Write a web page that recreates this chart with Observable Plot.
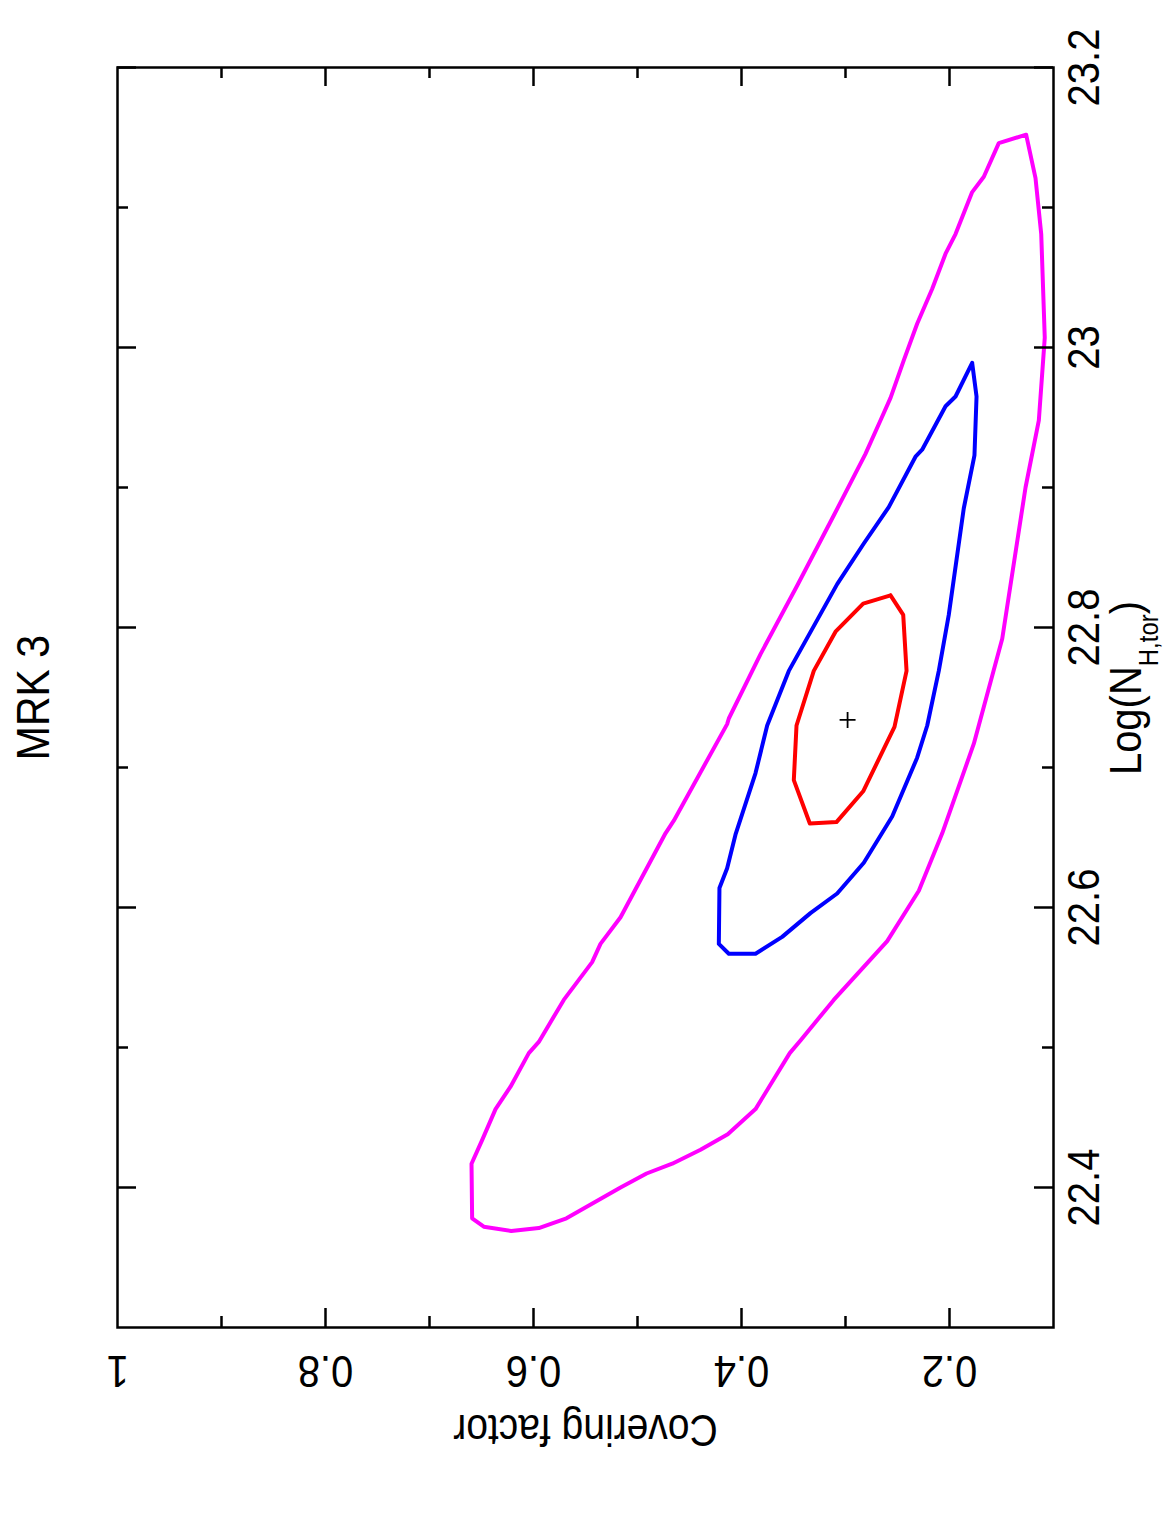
<!DOCTYPE html>
<html>
<head>
<meta charset="utf-8">
<script src="https://cdn.jsdelivr.net/npm/d3@7"></script>
<script src="https://cdn.jsdelivr.net/npm/@observablehq/plot@0.6"></script>
<style>
  html, body { margin: 0; padding: 0; background: #fff; }
  svg { display: block; }
</style>
</head>
<body>
<div id="chart"></div>
<script>
// Outer (magenta) confidence contour
const outerCf = [0.1263,0.1173,0.1118,0.1084,0.1141,0.1269,0.1493,0.1766,0.2070,0.2295,0.2599,0.3113,0.3433,0.3536,0.3865,0.4132,0.4394,0.4666,0.4913,0.5163,0.5683,0.5949,0.6214,0.6478,0.6590,0.6596,0.6493,0.6365,0.6221,0.6045,0.5949,0.5709,0.5436,0.5356,0.5163,0.5019,0.4731,0.4651,0.4138,0.4122,0.3817,0.3464,0.3113,0.2808,0.2663,0.2567,0.2439,0.2311,0.2166,0.2038,0.1942,0.1782,0.1670,0.1526];
const outerNh = [23.152,23.121,23.081,23.007,22.948,22.900,22.792,22.717,22.653,22.612,22.576,22.534,22.505,22.496,22.456,22.438,22.427,22.417,22.410,22.400,22.378,22.371,22.369,22.372,22.378,22.417,22.434,22.456,22.472,22.496,22.504,22.534,22.561,22.574,22.593,22.613,22.653,22.662,22.731,22.735,22.781,22.830,22.880,22.924,22.948,22.964,22.991,23.017,23.042,23.067,23.081,23.111,23.122,23.146];

// Middle (blue) contour
const midCf = [0.1782,0.1740,0.1760,0.1863,0.2007,0.2103,0.2214,0.2311,0.2551,0.2824,0.3080,0.3337,0.3609,0.3865,0.4122,0.4218,0.4212,0.4138,0.4058,0.3865,0.3753,0.3545,0.3080,0.2824,0.2584,0.2327,0.2263,0.2038,0.1942];
const midNh = [22.989,22.965,22.923,22.885,22.809,22.769,22.730,22.707,22.665,22.632,22.610,22.596,22.579,22.567,22.567,22.574,22.614,22.628,22.652,22.696,22.730,22.769,22.831,22.860,22.886,22.922,22.927,22.958,22.965];

// Inner (red) contour
const innerCf = [0.2567,0.2830,0.3096,0.3305,0.3471,0.3497,0.3343,0.3087,0.2830,0.2529,0.2413,0.2445];
const innerNh = [22.823,22.817,22.797,22.769,22.730,22.691,22.660,22.661,22.683,22.729,22.769,22.809];

// Best fit
const bestCf = [0.298];
const bestNh = [22.734];

// Ticks and labels
const nhMajor = [22.4, 22.6, 22.8, 23.0, 23.2];
const nhMinor = [22.5, 22.7, 22.9, 23.1];
const cfMajor = [0.2, 0.4, 0.6, 0.8];
const cfMinor = [0.3, 0.5, 0.7, 0.9];
const nhLabels = [22.4, 22.6, 22.8, 23, 23.2];
const cfLabels = [1, 0.8, 0.6, 0.4, 0.2];
const title = "MRK 3";
const xTitle = "Covering factor";

function closed(cf, nh) {
  const pts = cf.map((c, i) => ({cf: c, nh: nh[i]}));
  pts.push(pts[0]);
  return pts;
}

const W = 1167, H = 1523;
const mL = 117, mR = 114, mT = 67, mB = 196;
const iw = W - mL - mR, ih = H - mT - mB;
const major = 19, minor = 11;
const font = "Liberation Sans, Arial, Helvetica, sans-serif";
const txt = {textAnchor: "middle", lineAnchor: "middle", fill: "black"};

const chart = Plot.plot({
  width: W, height: H,
  marginLeft: mL, marginRight: mR, marginTop: mT, marginBottom: mB,
  style: {fontFamily: font, background: "#fff"},
  x: {domain: [1, 0.1], axis: null},
  y: {domain: [22.3, 23.2], axis: null},
  marks: [
    Plot.line(closed(outerCf, outerNh), {x: "cf", y: "nh", stroke: "#ff00ff", strokeWidth: 4, strokeLinejoin: "round"}),
    Plot.line(closed(midCf, midNh), {x: "cf", y: "nh", stroke: "#0000ff", strokeWidth: 4, strokeLinejoin: "round"}),
    Plot.line(closed(innerCf, innerNh), {x: "cf", y: "nh", stroke: "#ff0000", strokeWidth: 4, strokeLinejoin: "round"}),
    Plot.dot(bestCf.map((c, i) => ({cf: c, nh: bestNh[i]})), {x: "cf", y: "nh", symbol: "plus", r: 5.2, stroke: "black", strokeWidth: 1.8}),
    // ticks, inward on all four sides
    Plot.ruleY(nhMajor, {y: d => d, insetLeft: iw - major, stroke: "black", strokeWidth: 2.5}),
    Plot.ruleY(nhMajor, {y: d => d, insetRight: iw - major, stroke: "black", strokeWidth: 2.5}),
    Plot.ruleY(nhMinor, {y: d => d, insetLeft: iw - minor, stroke: "black", strokeWidth: 2.5}),
    Plot.ruleY(nhMinor, {y: d => d, insetRight: iw - minor, stroke: "black", strokeWidth: 2.5}),
    Plot.ruleX(cfMajor, {x: d => d, insetTop: ih - major, stroke: "black", strokeWidth: 2.5}),
    Plot.ruleX(cfMajor, {x: d => d, insetBottom: ih - major, stroke: "black", strokeWidth: 2.5}),
    Plot.ruleX(cfMinor, {x: d => d, insetTop: ih - minor, stroke: "black", strokeWidth: 2.5}),
    Plot.ruleX(cfMinor, {x: d => d, insetBottom: ih - minor, stroke: "black", strokeWidth: 2.5}),
    Plot.frame({stroke: "black", strokeWidth: 2.5}),
    // tick labels
    Plot.text(nhLabels, {...txt, y: d => d, text: d => String(d), frameAnchor: "right", dx: 31, rotate: -90, fontSize: 40}),
    Plot.text(cfLabels, {...txt, x: d => d, text: d => String(d), frameAnchor: "bottom", dy: 43, rotate: 180, fontSize: 40}),
    Plot.text([xTitle], {...txt, text: d => d, frameAnchor: "bottom", dy: 101, rotate: 180, fontSize: 39}),
    Plot.text([title], {...txt, text: d => d, frameAnchor: "left", dx: -83, rotate: -90, fontSize: 41})
  ]
});

const svg = d3.select(chart);
svg.selectAll("text").each(function() {
  const t = this.getAttribute("transform");
  if (t) this.setAttribute("transform", t + " scale(1,1.12)");
});

// y-axis title with subscript
const lbl = svg.append("text")
  .attr("transform", `translate(${W - mR + 88},688) rotate(-90) scale(1,1.12)`)
  .attr("text-anchor", "middle")
  .attr("font-family", font)
  .attr("font-size", 40)
  .attr("fill", "black");
lbl.append("tspan").text("Log(N");
lbl.append("tspan").attr("font-size", 24).attr("dy", 15).text("H,tor");
lbl.append("tspan").attr("dy", -15).text(")");

document.getElementById("chart").appendChild(chart);
</script>
</body>
</html>
